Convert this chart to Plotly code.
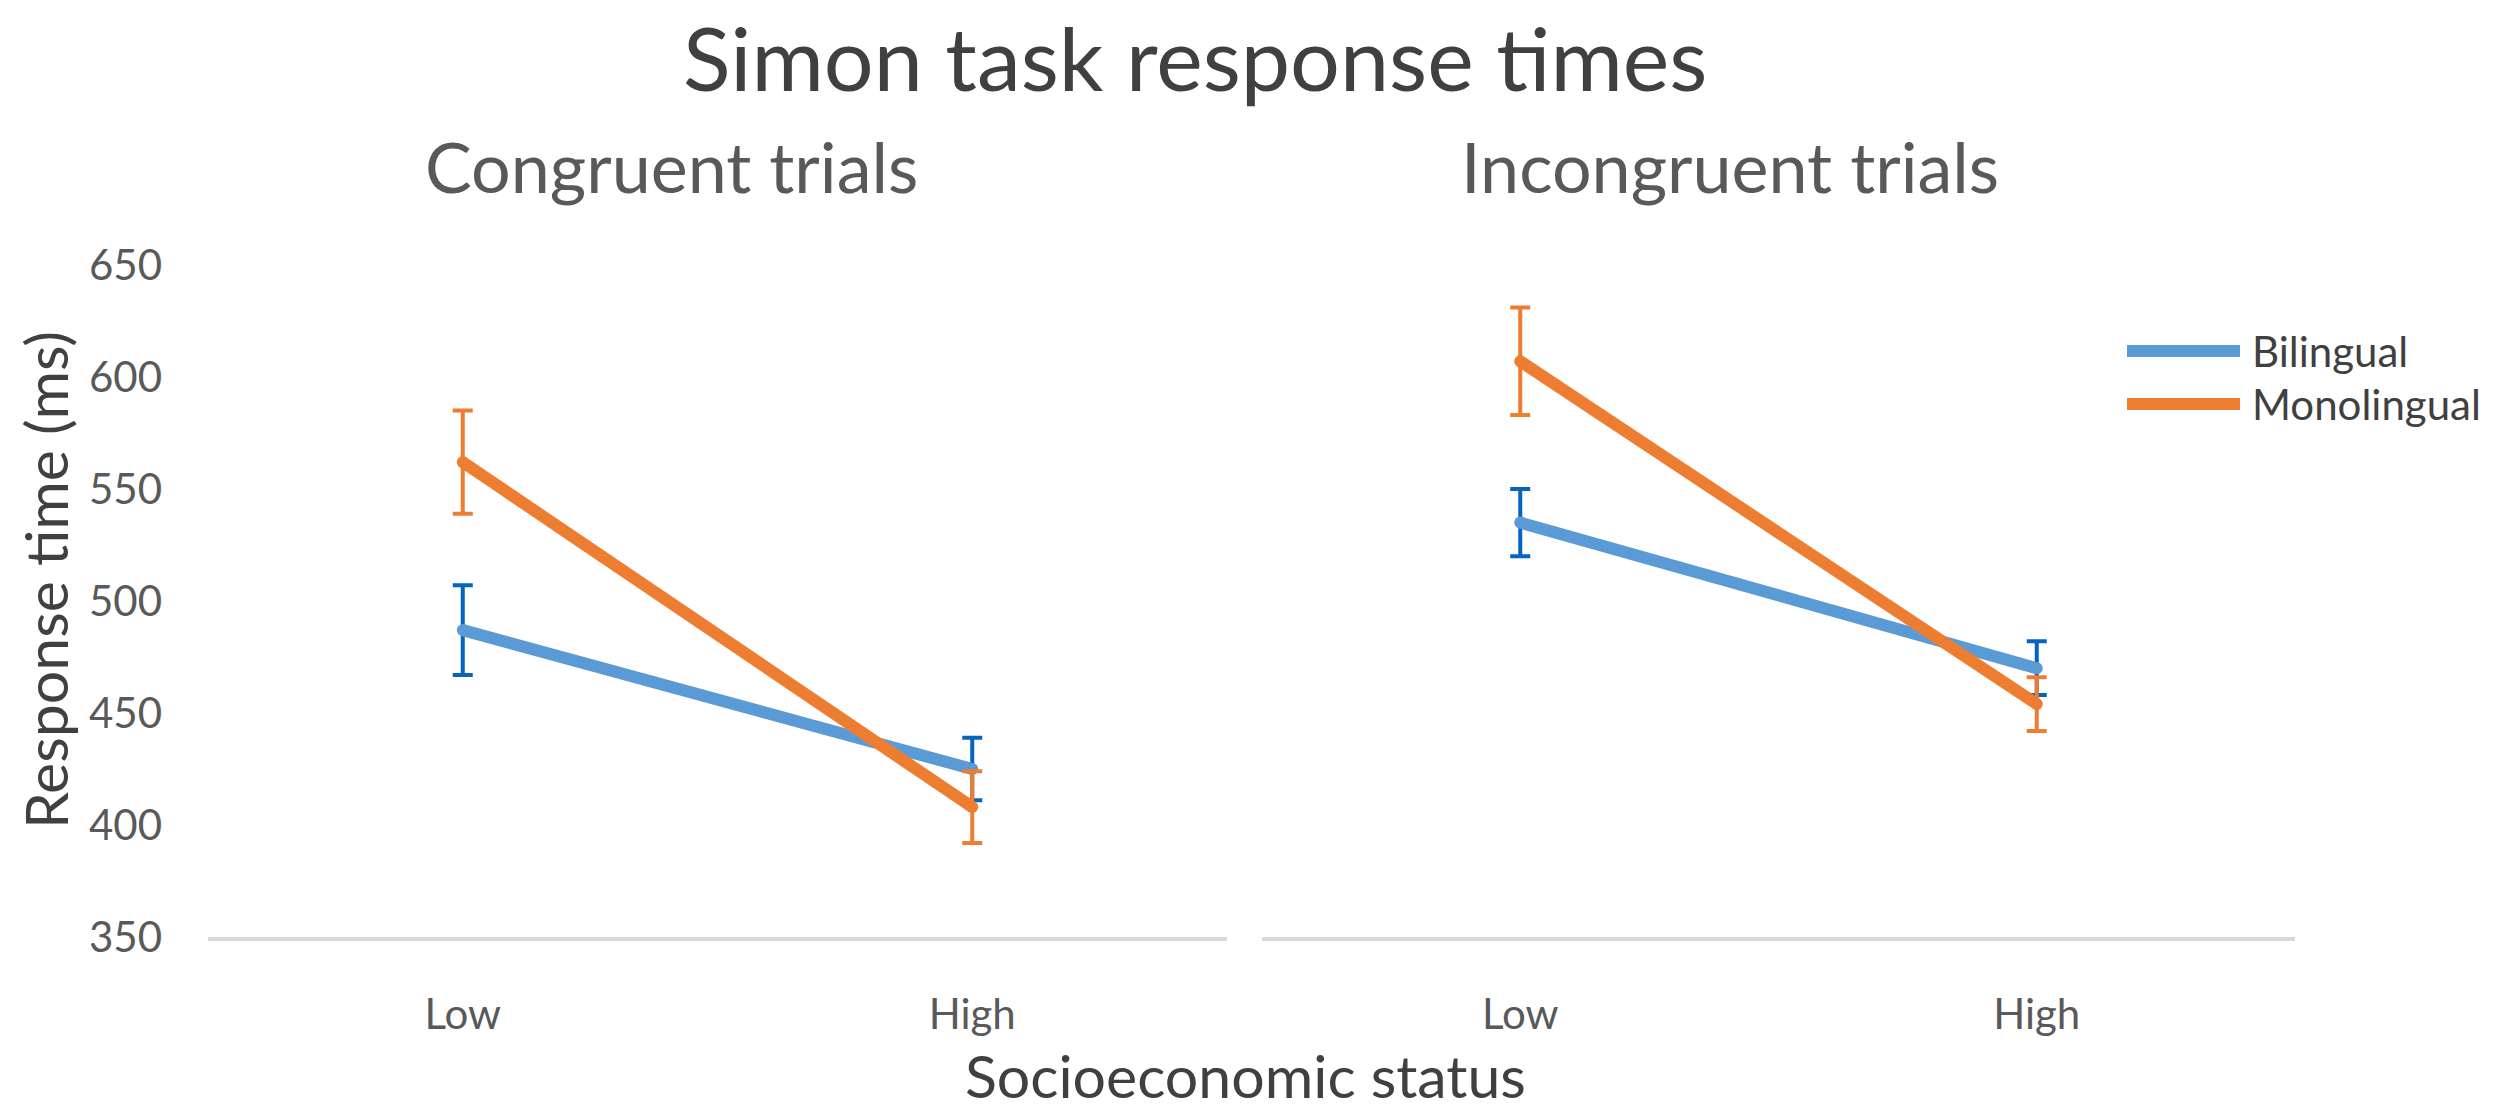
import plotly.graph_objects as go

W, H = 2500, 1113

categories = ["Low", "High"]
series_names = ["Bilingual", "Monolingual"]

# Congruent trials
bil_cong = [487, 425]
bil_cong_err = [20, 14]
mono_cong = [562, 408]
mono_cong_err = [23, 16]

# Incongruent trials
bil_incong = [535, 470]
bil_incong_err = [15, 12]
mono_incong = [607, 454]
mono_incong_err = [24, 12]

y_ticks = [350, 400, 450, 500, 550, 600, 650]

line_colors = ["#5B9BD5", "#ED7D31"]
err_colors = ["#0563C1", "#ED7D31"]

FONT = "Lato"


def px_x(px):
    return px / W


def px_y(py):
    return 1 - py / H


fig = go.Figure()

panels = [
    ("x", [bil_cong, mono_cong], [bil_cong_err, mono_cong_err]),
    ("x2", [bil_incong, mono_incong], [bil_incong_err, mono_incong_err]),
]

for xa, vals, errs in panels:
    for i in range(2):
        fig.add_trace(go.Scatter(
            x=categories, y=vals[i], xaxis=xa, yaxis="y",
            mode="lines+markers", name=series_names[i], showlegend=False,
            line=dict(color=line_colors[i], width=12),
            marker=dict(color=line_colors[i], size=12),
            error_y=dict(type="data", array=errs[i], visible=True,
                         color=err_colors[i], thickness=4, width=10),
        ))

y_lo = px_y(937)
y_hi = px_y(265)

axis_common = dict(
    type="category", categoryorder="array", categoryarray=categories,
    range=[-0.5, 1.5], showgrid=False, zeroline=False,
    showline=True, linecolor="#D9D9D9", linewidth=4,
    ticks="", tickfont=dict(family=FONT, size=42, color="#595959"),
    ticklabelstandoff=38, anchor="y", automargin=False,
)

fig.update_layout(
    width=W, height=H,
    margin=dict(l=0, r=0, t=0, b=0, autoexpand=False),
    paper_bgcolor="white", plot_bgcolor="white",
    showlegend=False,
    xaxis=dict(domain=[px_x(208), px_x(1227)], **axis_common),
    xaxis2=dict(domain=[px_x(1262), px_x(2295)], **axis_common),
    yaxis=dict(domain=[y_lo, y_hi], range=[350, 650], tickvals=y_ticks,
               showgrid=False, zeroline=False, showline=False, ticks="",
               automargin=False,
               tickfont=dict(family=FONT, size=42, color="#595959"),
               ticklabelstandoff=45),
)

annotations = [
    dict(text="Simon task response times", x=px_x(1195), y=px_y(2), xref="paper", yref="paper",
         showarrow=False, xanchor="center", yanchor="top",
         font=dict(family=FONT, size=88, color="#404040")),
    dict(text="Response time (ms)", x=px_x(45), y=px_y(580), xref="paper", yref="paper",
         showarrow=False, xanchor="center", yanchor="middle", textangle=-90,
         font=dict(family=FONT, size=59, color="#404040")),
    dict(text="Congruent trials", x=px_x(671), y=px_y(166), xref="paper", yref="paper",
         showarrow=False, xanchor="center", yanchor="middle",
         font=dict(family=FONT, size=70, color="#595959")),
    dict(text="Incongruent trials", x=px_x(1730), y=px_y(166), xref="paper", yref="paper",
         showarrow=False, xanchor="center", yanchor="middle",
         font=dict(family=FONT, size=70, color="#595959")),
    dict(text="Socioeconomic status", x=px_x(1245), y=px_y(1112), xref="paper", yref="paper",
         showarrow=False, xanchor="center", yanchor="bottom", borderpad=0,
         font=dict(family=FONT, size=59, color="#404040")),
]

# legend drawn as long line samples
legend_y = [351, 404]
for i, name in enumerate(series_names):
    fig.add_shape(type="line", xref="paper", yref="paper",
                  x0=px_x(2127), x1=px_x(2240), y0=px_y(legend_y[i]), y1=px_y(legend_y[i]),
                  line=dict(color=line_colors[i], width=12))
    annotations.append(dict(text=name, x=px_x(2250), y=px_y(legend_y[i]), xref="paper", yref="paper",
                            showarrow=False, xanchor="left", yanchor="middle",
                            font=dict(family=FONT, size=42, color="#404040")))

fig.update_layout(annotations=annotations)

# remove the default page margin so the figure fills the window exactly
fig.write_html("out.html",
               config={"displayModeBar": False},
               post_script="document.body.style.margin='0';document.body.style.overflow='hidden';")
